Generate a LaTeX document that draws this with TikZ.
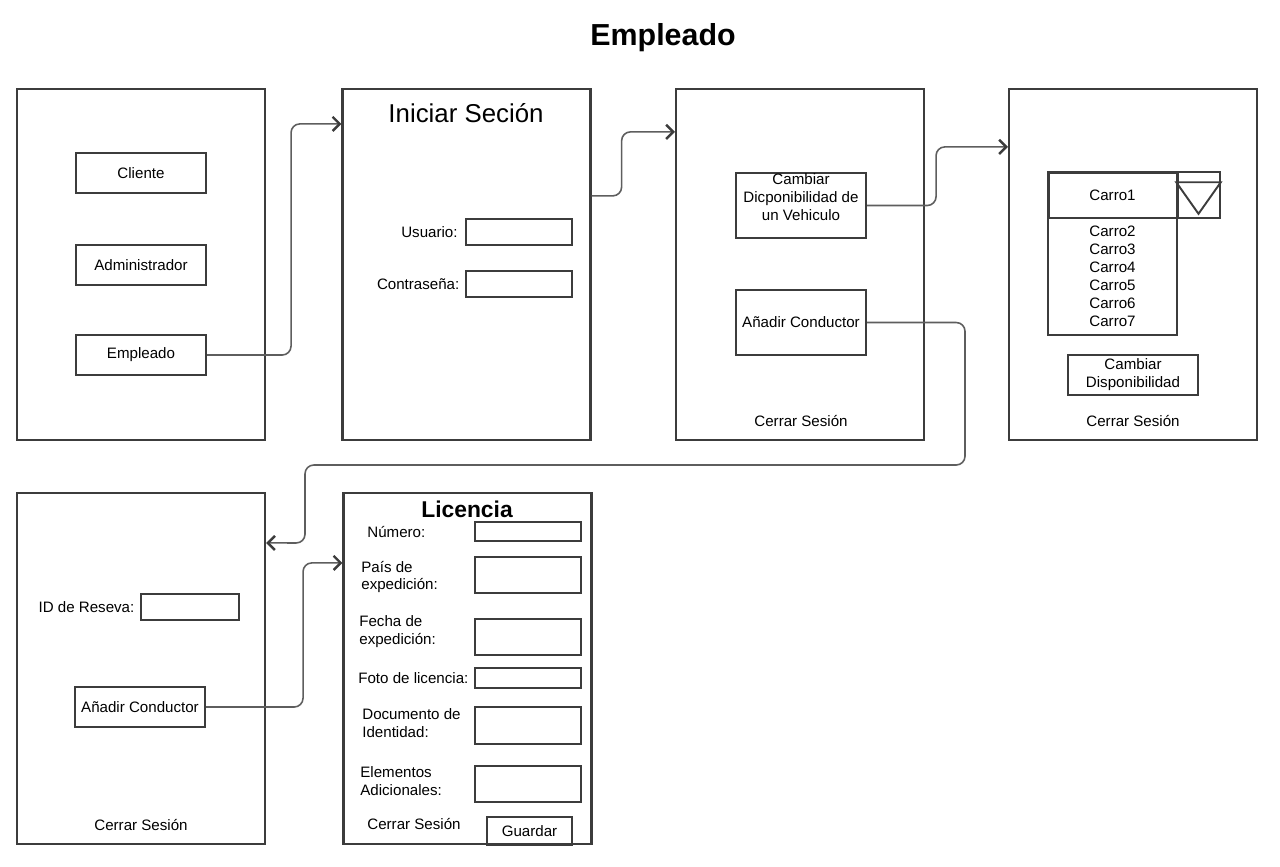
\documentclass[tikz,border=0pt]{standalone}
\usepackage{fontspec}
\setmainfont{Liberation Sans}
\usetikzlibrary{arrows.meta,positioning}
\definecolor{borde}{HTML}{3C3C3C}
\definecolor{linea}{HTML}{5E5E5E}
\tikzset{
  panel/.style={draw=borde, line width=1.3pt, minimum width=4.96cm, minimum height=7.02cm, inner sep=0pt},
  boton/.style={draw=borde, line width=1.2pt, minimum width=2.6cm, minimum height=0.8cm, inner sep=0.5pt, align=center, font=\fontsize{8.6}{10.2}\selectfont},
  campo/.style={draw=borde, line width=1.2pt, minimum width=2.12cm, inner sep=0pt},
  txt/.style={inner sep=0pt, font=\fontsize{8.6}{10.2}\selectfont},
  link/.style={draw=linea, line width=0.9pt, rounded corners=5pt, -{Straight Barb[length=4pt,width=8pt,line width=1.4pt,color=borde]}},
}
\begin{document}
\begin{tikzpicture}[x=0.02cm, y=-0.02cm]
  \useasboundingbox (0,0) rectangle (1280,866);

  \node[font=\bfseries\fontsize{17.3}{20}\selectfont] (titulo) at (663,38) {Empleado};

  % pantallas
  \node[panel] (p1) at (141,264.5) {};
  \node[panel] (p2) at (466.5,264.5) {};
  \node[panel] (p3) at (800,264.5) {};
  \node[panel] (p4) at (1133,264.5) {};
  \node[panel] (p5) at (141,668.5) {};
  \node[panel] (p6) at (467.5,668.5) {};

  % seleccion de rol
  \node[boton] (cli) at (141,173) {Cliente};
  \node[boton] (adm) at (141,265) {Administrador};
  \node[boton] (emp) at (141,355) {Empleado};

  % inicio de sesion
  \node[font=\fontsize{14.7}{17}\selectfont] (ini) at (466,113) {Iniciar Seción};
  \node[campo, minimum height=0.52cm] (usr) at (519,232) {};
  \node[txt, left=4pt of usr] (lusr) {Usuario:};
  \node[campo, minimum height=0.52cm] (pwd) at (519,284) {};
  \node[txt, left=3pt of pwd] (lpwd) {Contraseña:};

  % menu del empleado
  \node[boton, minimum height=1.3cm] (veh) at (801,205.5) {};
  \node[txt, align=center] (lveh) at (801,197.5) {Cambiar\\Dicponibilidad de\\un Vehiculo};
  \node[boton, minimum height=1.3cm] (add1) at (801,322.5) {Añadir Conductor};
  \node[txt] (cs3) at (801,421) {Cerrar Sesión};

  % lista de carros
  \node[draw=borde, line width=1.7pt, minimum width=2.58cm, minimum height=0.92cm, txt] (c1) at (1112.5,195) {Carro1};
  \node[draw=borde, line width=0.9pt, minimum width=0.86cm, minimum height=0.92cm] (drop) at (1198.5,195) {};
  \draw[borde, line width=1.1pt] ([yshift=-0.22cm]drop.north west) -- ([yshift=-0.22cm]drop.north east) -- ([yshift=0.1cm]drop.south) -- cycle;
  \node[draw=borde, line width=1.2pt, minimum width=2.58cm, minimum height=2.34cm, txt, align=center] (lst) at (1112.5,276.5) {Carro2\\Carro3\\Carro4\\Carro5\\Carro6\\Carro7};
  \node[boton] (cdisp) at (1133,375) {Cambiar\\Disponibilidad};
  \node[txt] (cs4) at (1133,421) {Cerrar Sesión};

  % reserva
  \node[campo, minimum width=1.96cm, minimum height=0.52cm] (res) at (190,607) {};
  \node[txt, left=3pt of res] (lres) {ID de Reseva:};
  \node[boton] (add2) at (140,707) {Añadir Conductor};
  \node[txt] (cs5) at (141,825) {Cerrar Sesión};

  % licencia
  \node[font=\bfseries\fontsize{13}{15}\selectfont, inner sep=0pt] (lic) at (467,509) {Licencia};
  \node[campo, minimum height=0.38cm] (num) at (528,531.5) {};
  \node[campo, minimum height=0.72cm] (pais) at (528,575) {};
  \node[campo, minimum height=0.72cm] (fecha) at (528,637) {};
  \node[campo, minimum height=0.4cm] (foto) at (528,678) {};
  \node[campo, minimum height=0.74cm] (doc) at (528,725.5) {};
  \node[campo, minimum height=0.72cm] (elem) at (528,784) {};
  \node[txt, anchor=west] (lnum) at (367,532) {Número:};
  \node[txt, anchor=west, align=left] (lpais) at (361,577) {País de\\expedición:};
  \node[txt, anchor=west, align=left] (lfecha) at (359,631.5) {Fecha de\\expedición:};
  \node[txt, anchor=west] (lfoto) at (358,678) {Foto de licencia:};
  \node[txt, anchor=west, align=left] (ldoc) at (362,723) {Documento de\\Identidad:};
  \node[txt, anchor=west, align=left] (lelem) at (360,781) {Elementos\\Adicionales:};
  \node[txt] (cs6) at (414,824) {Cerrar Sesión};
  \node[boton, minimum width=1.7cm, minimum height=0.56cm] (guardar) at (529.5,831) {Guardar};

  % flujo
  \draw[link] (emp.east) -- ++(84,0) |- ([yshift=-0.72cm]p2.north west);
  \draw[link] ([yshift=-2.16cm]p2.north east) -- ++(30,0) |- ([yshift=-0.88cm]p3.north west);
  \draw[link] (veh.east) -- ++(69,0) |- ([yshift=-1.18cm]p4.north west);
  \draw[link] (add1.east) -| (965,465) -| (305,543) -- ([yshift=-1.02cm]p5.north east);
  \draw[link] (add2.east) -- ++(97,0) |- ([yshift=-1.42cm]p6.north west);
\end{tikzpicture}
\end{document}
